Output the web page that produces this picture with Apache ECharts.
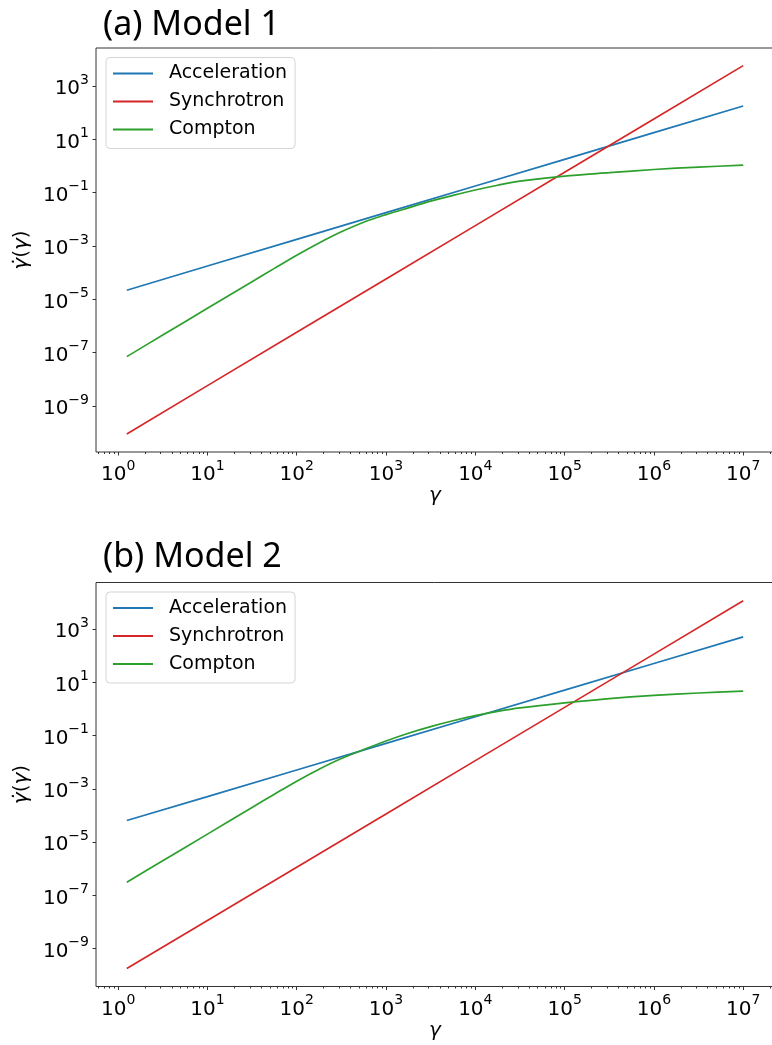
<!DOCTYPE html>
<html>
<head>
<meta charset="utf-8">
<script src="https://cdn.jsdelivr.net/npm/echarts@6/dist/echarts.min.js"></script>
<style>
html, body { margin: 0; padding: 0; background: #fff; }
#chart { width: 772px; height: 1045px; }
</style>
</head>
<body>
<div id="chart"></div>
<script>
// gamma points used for the Compton curves
const gammaC = [1.25, 3.16, 10, 31.6, 56.2, 100, 178, 316, 562, 1000, 1780, 3160, 5620, 1e4, 1.78e4, 3.16e4, 1e5, 3.16e5, 1e6, 3.16e6, 1e7]
// gamma points for the straight power laws
const gammaL = [1.25, 10, 100, 1000, 1e4, 1e5, 1e6, 1e7]

// (a) Model 1
const accel1 = [2.2e-5, 1.78e-4, 1.78e-3, 1.78e-2, 0.178, 1.78, 17.8, 178]
const sync1 = [8.9e-11, 5.8e-9, 5.8e-7, 5.8e-5, 5.8e-3, 0.58, 58, 5800]
const compton1 = [7.1e-8, 4.6e-7, 4.6e-6, 4.6e-5, 1.45e-4, 4.5e-4, 1.3e-3, 3.4e-3, 7.8e-3, 1.5e-2, 2.7e-2, 4.8e-2, 7.9e-2, 0.126, 0.19, 0.27, 0.42, 0.56, 0.74, 0.91, 1.07]

// (b) Model 2
const accel2 = [6.5e-5, 5.1e-4, 5.1e-3, 5.1e-2, 0.51, 5.1, 51, 513]
const sync2 = [1.8e-10, 1.15e-8, 1.15e-6, 1.15e-4, 1.15e-2, 1.15, 115, 11500]
const compton2 = [3.1e-7, 2.0e-6, 2.0e-5, 2.0e-4, 6.3e-4, 1.95e-3, 5.5e-3, 1.38e-2, 3.0e-2, 6.3e-2, 0.123, 0.219, 0.363, 0.562, 0.813, 1.10, 1.70, 2.45, 3.24, 3.98, 4.68]

// ticks
const xMajor = [1, 10, 100, 1e3, 1e4, 1e5, 1e6, 1e7]
const yMajor = [1e-9, 1e-7, 1e-5, 1e-3, 1e-1, 10, 1e3]
const minorMant = [2, 3, 4, 5, 6, 7, 8, 9]
const minorDecades = [0.1, 1, 10, 100, 1e3, 1e4, 1e5, 1e6, 1e7]
const names = ["Acceleration", "Synchrotron", "Compton"]
const colors = ["#1f77b4", "#d62728", "#2ca02c"]

const xMinor = []
minorDecades.forEach(d => minorMant.forEach(m => xMinor.push(m * d)))

const FONT = "DejaVu Sans"
const AXIS = "#333"
const xRange = [0.565, 2.213e7]
const yRange1 = [1.884e-11, 2.66e4]
const yRange2 = [3.8e-11, 5.62e4]
const panelTop = [48, 582.5]
const panelH = 404

const pair = (xs, ys) => xs.map((x, i) => [x, ys[i]])

const supLabel = (v) => {
  const e = Math.round(Math.log10(v))
  return "{b|10}{s|" + String(e).replace("-", "\u2212") + "}"
}
const labelRich = {
  b: { fontSize: 20, fontFamily: FONT, color: "#000", lineHeight: 26, verticalAlign: "bottom" },
  s: { fontSize: 14, fontFamily: FONT, color: "#000", lineHeight: 14, verticalAlign: "top" },
}

const grids = panelTop.map(t => ({
  left: 96, top: t, width: 678, height: panelH,
  outerBoundsMode: "none", containLabel: false,
  show: true, borderColor: AXIS, borderWidth: 1, backgroundColor: "transparent",
}))

const xAxes = []
const yAxes = []
;[0, 1].forEach(g => {
  xAxes.push({
    type: "log", gridIndex: g, position: "bottom", min: xRange[0], max: xRange[1],
    name: "γ", nameLocation: "middle", nameGap: 29,
    nameTextStyle: { fontFamily: FONT, fontSize: 20, fontStyle: "italic", color: "#000" },
    axisLine: { show: false },
    splitLine: { show: false },
    axisTick: { show: true, customValues: xMajor, length: 3.5, lineStyle: { color: AXIS } },
    axisLabel: { customValues: xMajor, margin: 7, formatter: supLabel, rich: labelRich },
  })
  xAxes.push({
    type: "log", gridIndex: g, position: "bottom", min: xRange[0], max: xRange[1],
    axisLine: { show: false },
    splitLine: { show: false },
    axisTick: { show: true, customValues: xMinor, length: 2, lineStyle: { color: AXIS } },
    axisLabel: { show: false },
  })
  const yr = g === 0 ? yRange1 : yRange2
  yAxes.push({
    type: "log", gridIndex: g, position: "left", min: yr[0], max: yr[1],
    name: "{i|γ̇}{n|(}{i|γ}{n|)}", nameLocation: "middle", nameGap: 62,
    nameTextStyle: {
      rich: {
        i: { fontFamily: FONT, fontSize: 20, fontStyle: "italic", color: "#000" },
        n: { fontFamily: FONT, fontSize: 20, color: "#000" },
      },
    },
    axisLine: { show: false },
    splitLine: { show: false },
    axisTick: { show: true, customValues: yMajor, length: 3.5, lineStyle: { color: AXIS } },
    axisLabel: { customValues: yMajor, margin: 7, formatter: supLabel, rich: labelRich },
  })
})

const series = []
;[0, 1].forEach(g => {
  const acc = g === 0 ? accel1 : accel2
  const syn = g === 0 ? sync1 : sync2
  const com = g === 0 ? compton1 : compton2
  const sets = [pair(gammaL, acc), pair(gammaL, syn), pair(gammaC, com)]
  sets.forEach((d, i) => {
    series.push({
      name: names[i], type: "line", xAxisIndex: g * 2, yAxisIndex: g,
      data: d, showSymbol: false, symbol: "none",
      smooth: i === 2 ? 0.3 : false,
      lineStyle: { color: colors[i], width: 1.7 },
      itemStyle: { color: colors[i] },
    })
  })
})

const legends = panelTop.map(t => ({
  left: 106, top: t + 9.5, orient: "vertical", data: names,
  icon: "rect", itemWidth: 40, itemHeight: 2, itemGap: 8,
  padding: [6, 8, 9, 7],
  backgroundColor: "#fff", borderColor: "#d5d5d5", borderWidth: 1, borderRadius: 4,
  textStyle: { fontSize: 19, fontFamily: FONT, color: "#000", lineHeight: 20, padding: [0, 0, 0, 11] },
}))

const titles = [
  { text: "(a) Model 1", left: 98, top: 3 },
  { text: "(b) Model 2", left: 98, top: 535 },
].map(t => ({ ...t, textStyle: { fontFamily: "Noto Sans", fontSize: 34, fontWeight: "normal", color: "#000" } }))

const chart = echarts.init(document.getElementById("chart"), null, { renderer: "canvas" })
chart.setOption({
  animation: false,
  backgroundColor: "#fff",
  title: titles,
  legend: legends,
  grid: grids,
  xAxis: xAxes,
  yAxis: yAxes,
  series: series,
})
</script>
</body>
</html>
